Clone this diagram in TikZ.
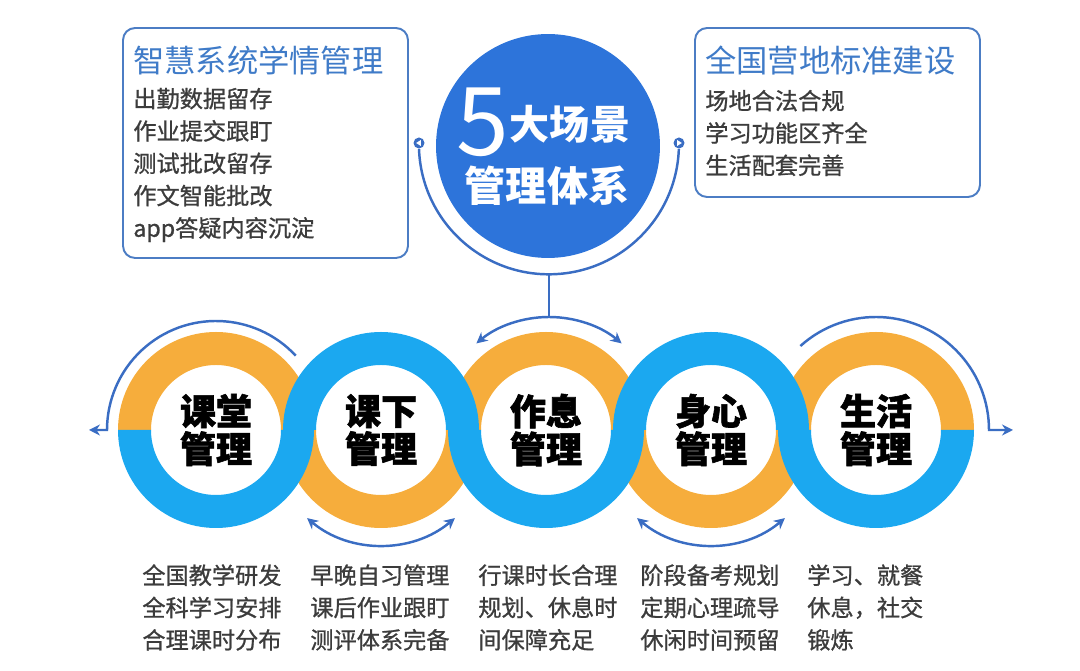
\documentclass[tikz,border=0pt]{standalone}
\usepackage{fontspec}
\setmainfont{Noto Sans CJK SC}
\newfontfamily\mediumfont{Noto Sans CJK SC}[FakeBold=0.9]
\newfontfamily\heavyfont{Noto Sans CJK SC}[BoldFeatures={FakeBold=1.6}]
\usetikzlibrary{arrows.meta,positioning}
\definecolor{ringorange}{RGB}{246,173,60}
\definecolor{ringblue}{RGB}{27,168,240}
\definecolor{hubblue}{RGB}{45,116,218}
\definecolor{lineblue}{RGB}{58,109,195}
\definecolor{boxblue}{RGB}{76,125,196}
\definecolor{titleblue}{RGB}{63,123,200}
\definecolor{textgray}{RGB}{60,60,60}
\tikzset{
  infobox/.style={draw=boxblue, line width=1.1pt, rounded corners=0.24cm, fill=white,
                  minimum width=5.7cm, inner sep=0pt},
  boxtitle/.style={font=\fontsize{17.8}{20}\selectfont, text=titleblue, anchor=west, inner sep=0pt},
  boxbody/.style={font=\mediumfont\fontsize{13.2}{18.4}\selectfont, text=textgray, align=left,
                  anchor=west, inner sep=0pt},
  ringlabel/.style={font=\heavyfont\fontsize{20.5}{21.5}\selectfont\bfseries, align=center, inner sep=0pt},
  hub/.style={circle, fill=hubblue, minimum size=4.48cm, inner sep=0pt},
  hubtext/.style={text=white, inner sep=0pt},
  marker/.style={circle, fill=lineblue, minimum size=0.22cm, inner sep=0pt},
  flowline/.style={draw=lineblue, line width=1.4pt},
  tip/.style={-{Stealth[length=2.2mm,width=2.2mm]}},
  tips/.style={{Stealth[length=2.2mm,width=2.2mm]}-{Stealth[length=2.2mm,width=2.2mm]}}
}

\begin{document}
\begin{tikzpicture}[x=0.02cm, y=-0.02cm]
  \useasboundingbox (0,0) rectangle (1080,671);

  % info boxes
  \node[infobox, minimum height=4.6cm] (leftbox) at (265.5,143) {};
  \node[boxtitle] (lefttitle) at (133,60) {智慧系统学情管理};
  \node[boxbody] (leftbody) at (133,165)
       {出勤数据留存\\作业提交跟盯\\测试批改留存\\作文智能批改\\app答疑内容沉淀};

  \node[infobox, minimum height=3.38cm] (rightbox) at (837.5,112.5) {};
  \node[boxtitle] (righttitle) at (705,60) {全国营地标准建设};
  \node[boxbody] (rightbody) at (705,133)
       {场地合法合规\\学习功能区齐全\\生活配套完善};

  % hub
  \node[hub] (hub) at (548,146) {};
  \node[hubtext, font=\fontsize{54}{54}\selectfont] (five) at (483,122) {5};
  \node[hubtext, font=\fontsize{22.8}{24}\selectfont\bfseries] (hubtop) at (570,124) {大场景};
  \node[hubtext, font=\fontsize{23.4}{24}\selectfont\bfseries] (hubbot) at (547,186) {管理体系};

  % markers and the arc under the hub
  \node[marker] (mkL) at (419,143) {};
  \node[marker] (mkR) at (679,143) {};
  \fill[white] (mkL.center) ++(-2.8,0) -- ++(4.6,-3) -- ++(0,6) -- cycle;
  \fill[white] (mkR.center) ++(2.8,0) -- ++(-4.6,-3) -- ++(0,6) -- cycle;
  \draw[flowline] (mkL.south) arc[start angle=178, end angle=2, radius=130];
  \coordinate (stemtop) at (549,273.5);
  \coordinate (stembot) at (549,317);
  \draw[flowline] (stemtop) -- (stembot);

  % rings
  \foreach \i in {1,...,5}
    \coordinate (r\i) at ({216+165*(\i-1)},430);
  \foreach \i/\oa in {1/-180,2/180,3/-180,4/180,5/-180}
    \fill[ringorange] (r\i) ++(0:98) arc[start angle=0, end angle=\oa, radius=98]
      -- ++(33,0) arc[start angle=\oa, end angle=0, radius=65] -- cycle;
  \foreach \i/\ba in {1/180,2/-180,3/180,4/-180,5/180}
    \fill[ringblue] (r\i) ++(0:98) arc[start angle=0, end angle=\ba, radius=98]
      -- ++(33,0) arc[start angle=\ba, end angle=0, radius=65] -- cycle;

  \node[ringlabel] (lab1) at (r1) {课堂\\管理};
  \node[ringlabel] (lab2) at (r2) {课下\\管理};
  \node[ringlabel] (lab3) at (r3) {作息\\管理};
  \node[ringlabel] (lab4) at (r4) {身心\\管理};
  \node[ringlabel] (lab5) at (r5) {生活\\管理};

  % flow arcs round the rings
  \draw[flowline, tip] (r1) ++(-43:109) arc[start angle=-43, end angle=-180, radius=109]
    -- ++(-18,0) coordinate (outL);
  \draw[flowline, tips] (r2) ++(130:115) arc[start angle=130, end angle=50, radius=115];
  \draw[flowline, tip] (stembot) arc[start angle=-90, end angle=-130, radius=113];
  \draw[flowline, tip] (stembot) arc[start angle=-90, end angle=-50, radius=113];
  \draw[flowline, tips] (r4) ++(130:115) arc[start angle=130, end angle=50, radius=115];
  \draw[flowline, tip] (r5) ++(-132:113) arc[start angle=-132, end angle=0, radius=113]
    -- ++(24,0) coordinate (outR);

  % texts under the rings
  \node[boxbody] (txt1) at (142,607.5) {全国教学研发\\全科学习安排\\合理课时分布};
  \node[boxbody] (txt2) at (310,607.5) {早晚自习管理\\课后作业跟盯\\测评体系完备};
  \node[boxbody] (txt3) at (478,607.5) {行课时长合理\\规划、休息时\\间保障充足};
  \node[boxbody] (txt4) at (640,607.5) {阶段备考规划\\定期心理疏导\\休闲时间预留};
  \node[boxbody] (txt5) at (807,607.5) {学习、就餐\\休息，社交\\锻炼};
\end{tikzpicture}
\end{document}
